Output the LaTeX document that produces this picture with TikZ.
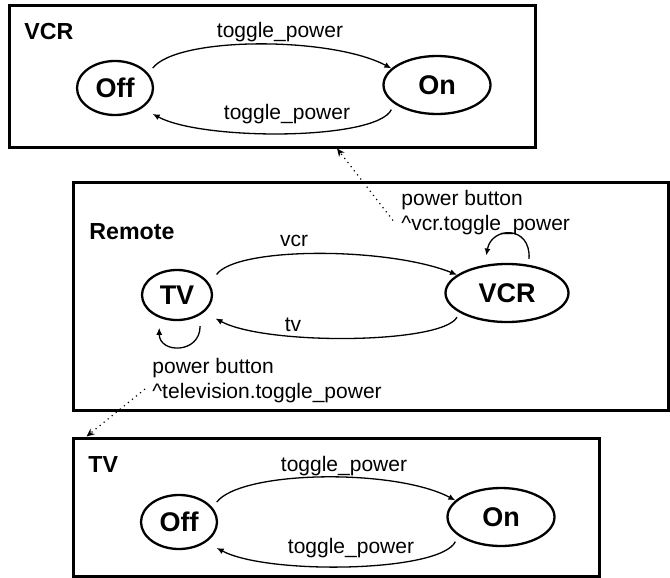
\documentclass[tikz,border=0pt]{standalone}
\usepackage{fontspec}
\setmainfont{Liberation Sans}
\usetikzlibrary{shapes.geometric,arrows.meta}

\begin{document}
\begin{tikzpicture}[x=0.5pt,y=-0.5pt,
	frame/.style={draw, line width=1.5pt, inner sep=0pt},
	state/.style={draw, ellipse, line width=1.15pt, inner sep=0pt, font=\bfseries\fontsize{13.5}{16}\selectfont},
	boxlbl/.style={anchor=west, inner sep=0pt, font=\bfseries\fontsize{11.6}{14}\selectfont},
	lbl/.style={inner sep=0pt, font=\fontsize{10.5}{12.5}\selectfont},
	trans/.style={line width=0.65pt, -{Latex[length=3.5pt,width=3pt]}},
	link/.style={dotted, line width=0.6pt, -{Stealth[length=4pt,width=3.5pt]}}]
	\useasboundingbox (0,0) rectangle (670,578);

	\node[frame, minimum width=263pt, minimum height=71pt] (vcrbox) at (272,76) {};
	\node[frame, minimum width=297.5pt, minimum height=114pt] (remotebox) at (370.5,296) {};
	\node[frame, minimum width=263pt, minimum height=69pt] (tvbox) at (336,507) {};

	\node[boxlbl] (vcrlbl) at (24,32) {VCR};
	\node[boxlbl] (remotelbl) at (89,232) {Remote};
	\node[boxlbl] (tvlbl) at (88,465) {TV};

	\node[state, minimum width=38pt, minimum height=27pt] (off1) at (115,88) {Off};
	\node[state, minimum width=53.5pt, minimum height=29pt] (on1) at (437,85) {On};
	\node[state, minimum width=35pt, minimum height=25pt] (tv) at (177,295) {TV};
	\node[state, minimum width=61.5pt, minimum height=29pt] (vcr) at (507,293) {VCR};
	\node[state, minimum width=38pt, minimum height=27pt] (off2) at (179,522) {Off};
	\node[state, minimum width=53.5pt, minimum height=29pt] (on2) at (501,517) {On};

	\node[lbl] (t1) at (280,32) {toggle\_power};
	\node[lbl] (t2) at (287,114) {toggle\_power};
	\draw[trans] ([xshift=5pt]off1.north east) .. controls +(25,-32) and +(-60,-32) .. (on1.160);
	\draw[trans] ([yshift=-4pt]on1.200) .. controls +(-15,31) and +(50,27) .. ([xshift=5pt,yshift=-3pt]off1.south east);

	\node[lbl] (lvcr) at (294,241) {vcr};
	\node[lbl] (ltv) at (293,325) {tv};
	\draw[trans] ([xshift=7pt,yshift=1pt]tv.north east) .. controls +(20,-28) and +(-70,-28) .. (vcr.160);
	\draw[trans] ([yshift=-3pt]vcr.200) .. controls +(-15,27) and +(50,27) .. ([xshift=6.5pt,yshift=-2.5pt]tv.south east);
	\draw[trans] ([yshift=3pt]vcr.52) .. controls +(2,-34) and +(5,-29) .. ([yshift=4.5pt]vcr.126);
	\draw[trans] ([yshift=-5.5pt]tv.-41) .. controls +(0,28) and +(0,26) .. ([yshift=-5pt]tv.-128);
	\node[lbl, anchor=west, align=left] (pbvcr) at (401,212.5) {power button\\\textasciicircum vcr.toggle\_power};
	\node[lbl, anchor=west, align=left] (pbtv) at (152,381) {power button\\\textasciicircum television.toggle\_power};

	\node[lbl] (t3) at (344,466) {toggle\_power};
	\node[lbl] (t4) at (351,548) {toggle\_power};
	\draw[trans] ([xshift=5pt]off2.north east) .. controls +(25,-32) and +(-60,-32) .. (on2.160);
	\draw[trans] ([yshift=-4pt]on2.200) .. controls +(-15,31) and +(50,27) .. ([xshift=5pt,yshift=-3pt]off2.south east);

	\draw[link] ([xshift=-4pt,yshift=-4pt]pbvcr.west) -- ([xshift=32.5pt]vcrbox.south);
	\draw[link] ([xshift=-3.5pt,yshift=-4pt]pbtv.west) -- ([xshift=7.5pt]tvbox.north west);
\end{tikzpicture}
\end{document}
